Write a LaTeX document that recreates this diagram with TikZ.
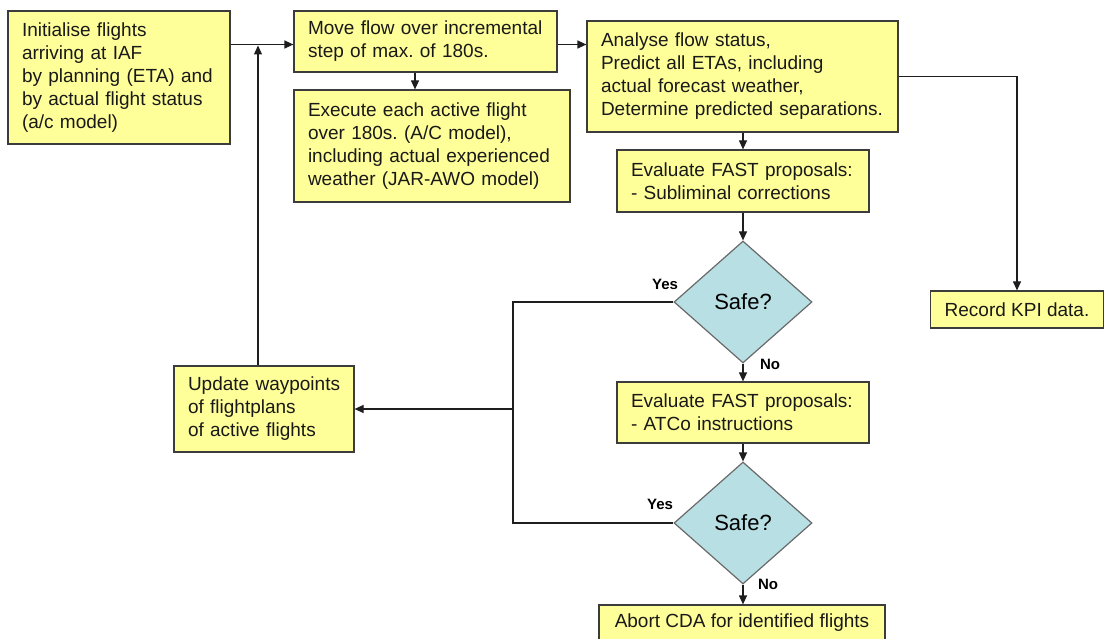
\documentclass[tikz,border=0pt]{standalone}
\usepackage{fontspec}
\setmainfont{Liberation Sans}
\usetikzlibrary{shapes.geometric,arrows.meta}
\definecolor{boxfill}{RGB}{255,255,153}
\definecolor{boxline}{RGB}{60,60,60}
\definecolor{dfill}{RGB}{184,223,227}
\definecolor{dline}{RGB}{105,105,105}
\definecolor{conn}{RGB}{30,30,30}
\newcommand\tline[1]{\mbox{#1}}
\frenchspacing
\begin{document}
\begin{tikzpicture}[x=1pt,y=-1pt,
  procbox/.style={draw=boxline, fill=boxfill, line width=1.2pt, rectangle,
    inner xsep=14pt, inner ysep=0pt, align=left,
    font=\fontsize{19}{23}\selectfont, text=black!90},
  decision/.style={diamond, draw=dline, fill=dfill, line width=1.2pt,
    minimum width=138pt, minimum height=122pt, inner sep=0pt,
    font=\fontsize{22}{26}\selectfont},
  lbl/.style={font=\bfseries\fontsize{15}{17}\selectfont},
  flow/.style={draw=conn, line width=1.2pt, -{Triangle[length=9pt,width=8pt]}},
  plain/.style={draw=conn, line width=1.2pt}
]
\useasboundingbox (0,0) rectangle (1104,639);

\node[procbox, text width=194pt, minimum height=133pt] (init) at (119,77.5)
  {\tline{Initialise flights}\\\tline{arriving at IAF}\\\tline{by planning (ETA) and}\\\tline{by actual flight status}\\\tline{(a/c model)}};
\node[procbox, text width=235pt, minimum height=61pt] (move) at (425.5,41.5)
  {\tline{Move flow over incremental}\\\tline{step of max. of 180s.}};
\node[procbox, text width=248pt, minimum height=112pt] (exec) at (432,146)
  {\tline{Execute each active flight}\\\tline{over 180s. (A/C model),}\\\tline{including actual experienced}\\\tline{weather (JAR-AWO model)}};
\node[procbox, text width=283pt, minimum height=111pt] (analyse) at (742.5,76.5)
  {\tline{Analyse flow status,}\\\tline{Predict all ETAs, including}\\\tline{actual forecast weather,}\\\tline{Determine predicted separations.}};
\node[procbox, text width=224pt, minimum height=62pt] (eval1) at (743,181)
  {\tline{Evaluate FAST proposals:}\\\tline{- Subliminal corrections}};
\node[decision] (d1) at (743,302) {Safe?};
\node[procbox, minimum width=172pt, minimum height=37pt] (record) at (1017,309.5)
  {Record KPI data.};
\node[procbox, text width=152pt, minimum height=86pt] (update) at (264,409)
  {\tline{Update waypoints}\\\tline{of flightplans}\\\tline{of active flights}};
\node[procbox, text width=224pt, minimum height=61pt] (eval2) at (743,412.5)
  {\tline{Evaluate FAST proposals:}\\\tline{- ATCo instructions}};
\node[decision] (d2) at (743,523) {Safe?};
\node[procbox, minimum width=286pt, minimum height=35pt] (abort) at (742,622.5)
  {Abort CDA for identified flights};

\node[lbl] (yes1) at (665,284) {Yes};
\node[lbl] (no1) at (770,364) {No};
\node[lbl] (yes2) at (660,504) {Yes};
\node[lbl] (no2) at (768,584) {No};

\coordinate (jy) at (0,44.5);
\coordinate (upx) at (258,0);
\coordinate (mx) at (415,0);
\coordinate (bx) at (513,0);

\draw[flow] (init.east |- jy) -- (move.west |- jy);
\draw[flow] (move.east |- jy) -- (analyse.west |- jy);
\draw[flow, shorten >=1pt] (update.north -| upx) -- (jy -| upx);
\draw[flow] (move.south -| mx) -- (exec.north -| mx);
\draw[flow] (analyse.east) -| (record.north);
\draw[flow] (eval1.north |- analyse.south) -- (eval1.north);
\draw[flow] (eval1.south) -- (d1.north);
\draw[flow] (d1.south) -- (eval2.north);
\draw[flow] (eval2.south) -- (d2.north);
\draw[flow] (d2.south) -- (d2.south |- abort.north);
\draw[plain] (d1.west) -| (bx |- d2.west) -- (d2.west);
\draw[flow] (bx |- update.east) -- (update.east);
\end{tikzpicture}
\end{document}
